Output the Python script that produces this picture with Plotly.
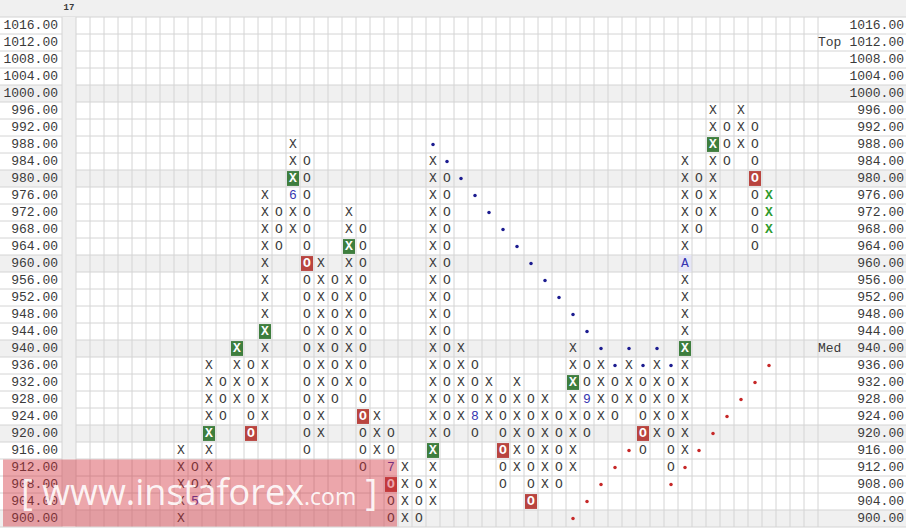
import plotly.graph_objects as go

# ---------------- data ----------------
prices = [1016 - 4 * i for i in range(30)]          # row prices 1016 .. 900
price_labels = [f"{p:.2f}" for p in prices]
shaded_prices = [1000, 980, 960, 940, 920, 900]

# (column, kind, low, high)
columns = [
    (8, "X", 900, 916), (9, "O", 904, 912), (10, "X", 908, 936), (11, "O", 924, 932),
    (12, "X", 928, 940), (13, "O", 920, 936), (14, "X", 924, 976), (15, "O", 964, 972),
    (16, "X", 968, 988), (17, "O", 916, 984), (18, "X", 920, 960), (19, "O", 928, 956),
    (20, "X", 932, 972), (21, "O", 912, 968), (22, "X", 916, 924), (23, "O", 900, 920),
    (24, "X", 900, 912), (25, "O", 900, 908), (26, "X", 904, 984), (27, "O", 920, 980),
    (28, "X", 924, 940), (29, "O", 920, 936), (30, "X", 924, 932), (31, "O", 908, 928),
    (32, "X", 912, 932), (33, "O", 904, 928), (34, "X", 908, 928), (35, "O", 908, 924),
    (36, "X", 912, 940), (37, "O", 920, 936), (38, "X", 924, 936), (39, "O", 924, 932),
    (40, "X", 928, 936), (41, "O", 916, 932), (42, "X", 920, 936), (43, "O", 912, 932),
    (44, "X", 916, 984), (45, "O", 968, 980), (46, "X", 972, 996), (47, "O", 984, 992),
    (48, "X", 988, 996), (49, "O", 964, 992), (50, "X", 968, 976),
]
current_column = 50
green_boxes = [(10, 920), (12, 940), (14, 944), (16, 980), (20, 964), (26, 916),
               (36, 932), (44, 940), (46, 988)]
red_boxes = [(13, 920), (17, 960), (21, 924), (23, 908), (31, 916), (33, 904),
             (41, 920), (49, 980)]
month_marks = [(9, 904, "5"), (16, 976, "6"), (23, 912, "7"), (29, 924, "8"),
               (37, 928, "9"), (44, 960, "A")]
blue_dots = [(26, 988), (27, 984), (28, 980), (29, 976), (30, 972), (31, 968),
             (32, 964), (33, 960), (34, 956), (35, 952), (36, 948), (37, 944),
             (38, 940), (39, 936), (40, 940), (41, 936), (42, 940), (43, 936)]
red_dots = [(36, 900), (37, 904), (38, 908), (39, 912), (40, 916),
            (43, 908), (44, 912), (45, 916), (46, 920), (47, 924), (48, 928),
            (49, 932), (50, 936)]
side_notes = [(1012, "Top"), (940, "Med")]
header_text = "17"
n_grid_cols = 54

# ---------------- build ----------------
W, H = 906, 529
XR = [-69 / 14, (W - 69) / 14]
YR = [1016 - (H - 25.5) / 4.25, 1016 + 25.5 / 4.25]
MONO = "Liberation Mono, Courier New, monospace"
GRID = "#d4d4d4"
TXT = "#3a3a3a"

special = {}
for c, p in green_boxes:
    special[(c, p)] = "green"
for c, p in red_boxes:
    special[(c, p)] = "red"
marks = {(c, p): t for c, p, t in month_marks}

plain_x, plain_y, plain_t = [], [], []
cur_x, cur_y, cur_t = [], [], []
box_x, box_y, box_t = [], [], []
for c, kind, lo, hi in columns:
    p = lo
    while p <= hi:
        if (c, p) in marks:
            pass
        elif (c, p) in special:
            box_x.append(c); box_y.append(p); box_t.append(kind)
        elif c == current_column:
            cur_x.append(c); cur_y.append(p); cur_t.append(kind)
        else:
            plain_x.append(c); plain_y.append(p); plain_t.append(kind)
        p += 4

shapes = []
# header band
shapes.append(dict(type="rect", xref="paper", yref="y", x0=0, x1=1,
                   y0=1018, y1=YR[1], fillcolor="#f0f0f0", line_width=0, layer="below"))
# shaded rows
for p in shaded_prices:
    shapes.append(dict(type="rect", xref="paper", yref="y", x0=0, x1=1,
                       y0=p - 2, y1=p + 2, fillcolor="#f0f0f0", line_width=0, layer="below"))
# first grid column shading
shapes.append(dict(type="rect", xref="x", yref="y", x0=-0.5, x1=0.5,
                   y0=prices[-1] - 2, y1=prices[0] + 2, fillcolor="#f0f0f0",
                   line_width=0, layer="below"))
# "A" cell background
for c, p, t in month_marks:
    if t == "A":
        shapes.append(dict(type="rect", xref="x", yref="y", x0=c - 0.5, x1=c + 0.5,
                           y0=p - 2, y1=p + 2, fillcolor="#e6e6f6",
                           line_width=0, layer="below"))
# horizontal grid lines
for i in range(len(prices) + 1):
    yv = prices[0] + 2 - 4 * i
    shapes.append(dict(type="line", xref="paper", yref="y", x0=0, x1=1,
                       y0=yv, y1=yv, line=dict(color=GRID, width=1), layer="below"))
# vertical grid lines
for k in range(n_grid_cols + 1):
    xv = k - 0.5
    shapes.append(dict(type="line", xref="x", yref="y", x0=xv, x1=xv,
                       y0=prices[-1] - 2, y1=prices[0] + 2,
                       line=dict(color=GRID, width=1), layer="below"))
# coloured boxes
for (c, p), col in special.items():
    shapes.append(dict(type="rect", xref="x", yref="y", x0=c - 0.43, x1=c + 0.43,
                       y0=p - 1.75, y1=p + 1.75,
                       fillcolor="#3e7e3e" if col == "green" else "#b9443f",
                       line_width=0, layer="below"))
# watermark
shapes.append(dict(type="rect", xref="x", yref="y",
                   x0=(3 - 69) / 14, x1=(397 - 69) / 14,
                   y0=1016 - (526 - 25) / 4.25, y1=1016 - (459 - 25) / 4.25,
                   fillcolor="rgba(210,44,55,0.42)", line_width=0, layer="above"))

fig = go.Figure()
fig.add_trace(go.Scatter(x=plain_x, y=plain_y, text=plain_t, mode="text",
                         textfont=dict(family=MONO, size=13, color=TXT),
                         hoverinfo="skip"))
fig.add_trace(go.Scatter(x=cur_x, y=cur_y, text=cur_t, mode="text",
                         textfont=dict(family=MONO, size=13, color="#2e9a2e", weight="bold"),
                         hoverinfo="skip"))
fig.add_trace(go.Scatter(x=box_x, y=box_y, text=box_t, mode="text",
                         textfont=dict(family=MONO, size=13, color="white", weight="bold"),
                         hoverinfo="skip"))
fig.add_trace(go.Scatter(x=[m[0] for m in month_marks], y=[m[1] for m in month_marks],
                         text=[m[2] for m in month_marks], mode="text",
                         textfont=dict(family=MONO, size=13, color="#3535b0"),
                         hoverinfo="skip"))
fig.add_trace(go.Scatter(x=[d[0] for d in blue_dots], y=[d[1] for d in blue_dots],
                         mode="markers", marker=dict(size=3.5, color="#1c1c90"),
                         hoverinfo="skip"))
fig.add_trace(go.Scatter(x=[d[0] for d in red_dots], y=[d[1] for d in red_dots],
                         mode="markers", marker=dict(size=3.5, color="#c62828"),
                         hoverinfo="skip"))
# price labels left and right
fig.add_trace(go.Scatter(x=[(58 - 69) / 14] * len(prices), y=prices, text=price_labels,
                         mode="text", textposition="middle left",
                         textfont=dict(family=MONO, size=13, color=TXT),
                         hoverinfo="skip"))
fig.add_trace(go.Scatter(x=[(904 - 69) / 14] * len(prices), y=prices, text=price_labels,
                         mode="text", textposition="middle left",
                         textfont=dict(family=MONO, size=13, color=TXT),
                         hoverinfo="skip"))
fig.add_trace(go.Scatter(x=[(818 - 69) / 14] * len(side_notes), y=[s[0] for s in side_notes],
                         text=[s[1] for s in side_notes], mode="text",
                         textposition="middle right",
                         textfont=dict(family=MONO, size=13, color=TXT),
                         hoverinfo="skip"))
fig.add_trace(go.Scatter(x=[0], y=[1016 + 18 / 4.25], text=[header_text], mode="text",
                         textfont=dict(family=MONO, size=9, color=TXT, weight="bold"),
                         hoverinfo="skip"))

fig.add_annotation(xref="x", yref="y", x=(199 - 69) / 14, y=1016 - (491 - 25) / 4.25,
                   text="[ www.instaforex<span style='font-size:23px'>.com</span> ]",
                   showarrow=False, xanchor="center", yanchor="middle",
                   font=dict(family="Open Sans, sans-serif", size=36,
                             color="rgba(255,255,255,0.9)"))

fig.update_layout(width=W, height=H, margin=dict(l=0, r=0, t=0, b=0),
                  paper_bgcolor="white", plot_bgcolor="white", showlegend=False,
                  shapes=shapes, hovermode=False,
                  xaxis=dict(range=XR, visible=False, fixedrange=True),
                  yaxis=dict(range=YR, visible=False, fixedrange=True))
fig.write_html("out.html", config={"displayModeBar": False, "staticPlot": True},
               post_script="document.body.style.margin='0';document.body.style.overflow='hidden';")
